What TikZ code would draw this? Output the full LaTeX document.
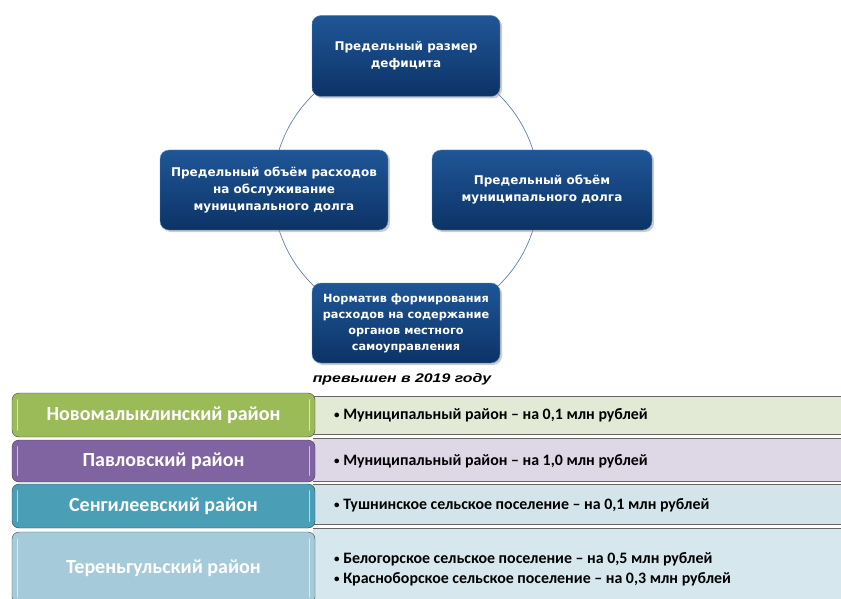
\documentclass[tikz,border=0pt]{standalone}
\usepackage{fontspec}
\setmainfont{Carlito}
\newfontfamily\goalfont{DejaVu Sans}
\newfontfamily\notefont{Liberation Sans}
\usetikzlibrary{shadows}

\definecolor{navytop}{HTML}{1F5697}
\definecolor{navybot}{HTML}{0C3366}
\definecolor{ringblue}{HTML}{5F7FA8}
\definecolor{olive}{HTML}{9BBB59}
\definecolor{oliveL}{HTML}{E2EAD6}
\definecolor{plum}{HTML}{8064A2}
\definecolor{plumL}{HTML}{DED7E6}
\definecolor{teal}{HTML}{4A9EB6}
\definecolor{tealL}{HTML}{D3E5EB}
\definecolor{sky}{HTML}{A5CBDA}
\definecolor{skyL}{HTML}{D6E7EE}

\newcommand\bul{\raisebox{1pt}{\fontsize{11}{11}\selectfont•}}

\tikzset{
  goal/.style={draw=navytop!70!white, rounded corners=9pt, top color=navytop, bottom color=navybot,
    text=white, align=center, font=\goalfont\bfseries\fontsize{12}{17}\selectfont,
    drop shadow={shadow xshift=2pt, shadow yshift=-2pt, fill=black!40}},
  district/.style={draw=black!75, rounded corners=7pt, text=white, font=\bfseries\fontsize{20}{22}\selectfont},
  detail/.style={anchor=west, inner xsep=0pt, font=\bfseries\fontsize{15.9}{20}\selectfont, align=left},
  gloss/.style={line width=1.2pt, line cap=round},
}

\begin{document}
\begin{tikzpicture}[x=1pt,y=-1pt]
\useasboundingbox (0,0) rectangle (841,599);

% circle behind the four blocks
\coordinate (hub) at (406,190);
\draw[ringblue, line width=0.7pt] (hub) circle[radius=133];

\node[goal, minimum width=188pt, minimum height=81pt] (deficit) at (406,56)
  {Предельный размер\\дефицита};
\node[goal, minimum width=228pt, minimum height=80pt] (service) at (274,190)
  {Предельный объём расходов\\на обслуживание\\муниципального долга};
\node[goal, minimum width=220pt, minimum height=80pt] (debt) at (542,190)
  {Предельный объём\\муниципального долга};
\node[goal, minimum width=188pt, minimum height=80pt,
  font=\goalfont\bfseries\fontsize{11.3}{16}\selectfont] (norm) at (406,323)
  {Норматив  формирования\\расходов на содержание\\органов местного\\самоуправления};

\node[font=\notefont\bfseries\itshape\fontsize{12.5}{14}\selectfont] (note) at (402,379)
  {\scalebox{1.27}[1]{превышен в 2019 году}};

% rows: panels first, district boxes on top
\fill[oliveL] (313,396) rectangle (850,434);
\draw[black!60] (313,396) -- (850,396) (313,434) -- (850,434);
\fill[plumL] (313,438) rectangle (850,481);
\draw[black!60] (313,438) -- (850,438) (313,481) -- (850,481);
\fill[tealL] (313,484) rectangle (850,524);
\draw[black!60] (313,484) -- (850,484) (313,524) -- (850,524);
\fill[skyL] (313,528) rectangle (850,610);
\draw[black!60] (313,528) -- (850,528);

\node[detail] (novD) at (334,415) {\bul\ Муниципальный район – на 0,1 млн рублей};
\node[detail] (pavD) at (334,461) {\bul\ Муниципальный район – на 1,0 млн рублей};
\node[detail] (senD) at (334,505) {\bul\ Тушнинское сельское поселение – на 0,1 млн рублей};
\node[detail] (terD) at (334,569)
  {\bul\ Белогорское сельское поселение – на 0,5 млн рублей\\\bul\ Красноборское сельское поселение – на 0,3 млн рублей};

\node[district, fill=olive, minimum width=303pt, minimum height=44pt] (nov) at (163.5,415) {Новомалыклинский район};
\node[district, fill=plum, minimum width=303pt, minimum height=42pt] (pav) at (163.5,461) {Павловский район};
\node[district, fill=teal, minimum width=303pt, minimum height=44pt] (sen) at (163.5,506) {Сенгилеевский район};
\node[district, fill=sky, minimum width=303pt, minimum height=72pt] (ter) at (163.5,568) {Тереньгульский район};

% glossy edges of district boxes
\foreach \d/\c in {nov/olive, pav/plum, sen/teal, ter/sky}{
  \draw[gloss, \c!40!white] ([xshift=6pt,yshift=-7pt]\d.north west) -- ([xshift=6pt,yshift=7pt]\d.south west);
  \draw[gloss, \c!40!white] ([xshift=-6pt,yshift=-7pt]\d.north east) -- ([xshift=-6pt,yshift=7pt]\d.south east);
}
\end{tikzpicture}
\end{document}
